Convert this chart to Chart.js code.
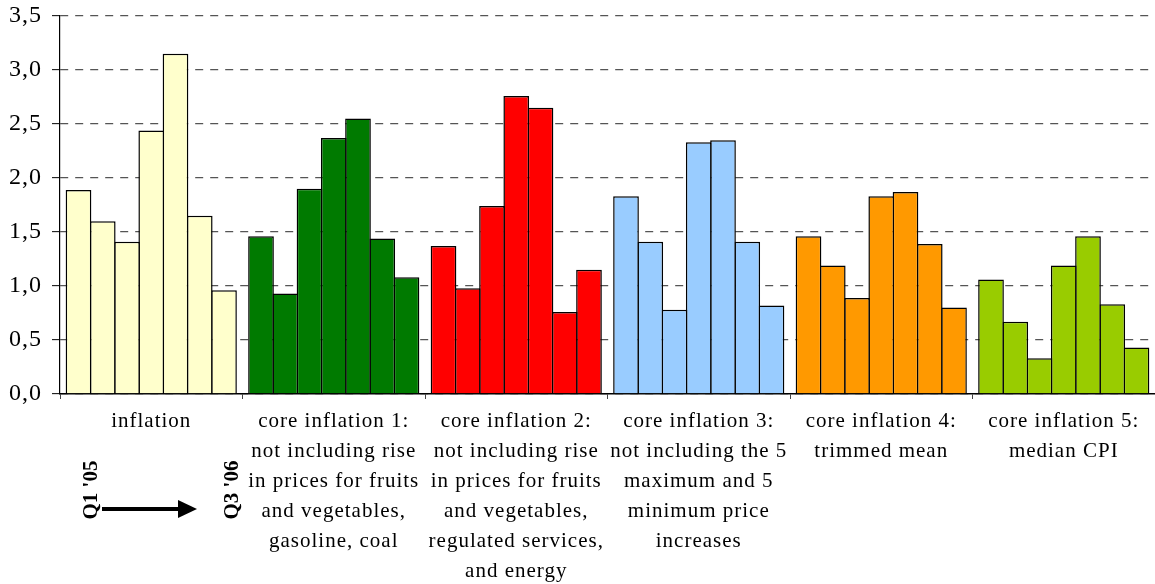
<!DOCTYPE html>
<html>
<head>
<meta charset="utf-8">
<script src="https://cdn.jsdelivr.net/npm/chart.js@4/dist/chart.umd.min.js"></script>
<style>
  html, body { margin: 0; padding: 0; background: #fff; }
  #c { display: block; }
</style>
</head>
<body>
<canvas id="c" width="1155" height="584"></canvas>
<script>
// Inflation measures (categories), each with quarterly values Q1 '05 .. Q3 '06, % q/q
const categories = [
  ['inflation'],
  ['core inflation 1:', 'not including rise', 'in prices for fruits', 'and vegetables,', 'gasoline, coal'],
  ['core inflation 2:', 'not including rise', 'in prices for fruits', 'and vegetables,', 'regulated services,', 'and energy'],
  ['core inflation 3:', 'not including the 5', 'maximum and 5', 'minimum price', 'increases'],
  ['core inflation 4:', 'trimmed mean'],
  ['core inflation 5:', 'median CPI']
];
const quarters = ["Q1 '05", "Q2 '05", "Q3 '05", "Q4 '05", "Q1 '06", "Q2 '06", "Q3 '06"];

const inflation = [1.89, 1.60, 1.41, 2.44, 3.15, 1.65, 0.96];
const core1     = [1.46, 0.93, 1.90, 2.37, 2.55, 1.44, 1.08];
const core2     = [1.37, 0.98, 1.74, 2.76, 2.65, 0.76, 1.15];
const core3     = [1.83, 1.41, 0.78, 2.33, 2.35, 1.41, 0.82];
const core4     = [1.46, 1.19, 0.89, 1.83, 1.87, 1.39, 0.80];
const core5     = [1.06, 0.67, 0.33, 1.19, 1.46, 0.83, 0.43];

const yTicks = [0, 0.5, 1.0, 1.5, 2.0, 2.5, 3.0, 3.5];

const measureColors = ['#FFFFCC', '#007A00', '#FF0000', '#99CCFF', '#FF9900', '#99CC00'];

const series = [inflation, core1, core2, core3, core4, core5];

// One dataset per quarter; bars coloured by measure
const datasets = quarters.map((q, qi) => ({
  label: q,
  data: series.map(s => s[qi]),
  backgroundColor: measureColors,
  borderColor: '#000',
  borderWidth: 1.5,
  borderSkipped: 'start',
  categoryPercentage: 0.93,
  barPercentage: 1.06
}));

// Slightly spaced serif lettering for the axis texts
const letterSpacing = {
  id: 'letterSpacing',
  beforeDraw(chart) { chart.ctx.letterSpacing = '1px'; },
  afterDraw(chart) { chart.ctx.letterSpacing = '0px'; }
};

// Bold period markers with arrow under the first group
const periodArrow = {
  id: 'periodArrow',
  afterDraw(chart) {
    const { ctx, chartArea } = chart;
    const x0 = chartArea.left, y0 = chartArea.bottom;
    ctx.save();
    ctx.letterSpacing = '0px';
    ctx.fillStyle = '#000';
    ctx.strokeStyle = '#000';
    ctx.font = 'bold 21px "Liberation Serif", "Times New Roman", serif';
    ctx.textAlign = 'center';
    ctx.textBaseline = 'middle';
    [[quarters[0], x0 + 32], [quarters[quarters.length - 1], x0 + 173]].forEach(([t, x]) => {
      ctx.save();
      ctx.translate(x, y0 + 96);
      ctx.rotate(-Math.PI / 2);
      ctx.fillText(t, 0, 0);
      ctx.restore();
    });
    ctx.lineWidth = 4;
    ctx.beginPath();
    ctx.moveTo(x0 + 42, y0 + 115);
    ctx.lineTo(x0 + 121, y0 + 115);
    ctx.stroke();
    ctx.beginPath();
    ctx.moveTo(x0 + 118, y0 + 106);
    ctx.lineTo(x0 + 137, y0 + 115);
    ctx.lineTo(x0 + 118, y0 + 124);
    ctx.closePath();
    ctx.fill();
    ctx.restore();
  }
};

new Chart(document.getElementById('c'), {
  type: 'bar',
  data: { labels: categories, datasets },
  options: {
    responsive: false,
    animation: false,
    devicePixelRatio: 1,
    layout: { padding: { top: 0, right: 0, bottom: 0, left: 0 } },
    plugins: {
      legend: { display: false },
      tooltip: { enabled: false }
    },
    scales: {
      x: {
        offset: true,
        afterFit(scale) { scale.height = 190; },
        grid: {
          offset: true,
          drawOnChartArea: false,
          drawTicks: true,
          tickLength: 5,
          color: '#444',
          lineWidth: 1
        },
        border: { display: true, color: '#000', width: 1.5 },
        ticks: {
          autoSkip: false,
          maxRotation: 0,
          minRotation: 0,
          padding: 7,
          color: '#000',
          font: { family: '"Liberation Serif", "Times New Roman", serif', size: 21, lineHeight: 1.43 }
        }
      },
      y: {
        min: 0,
        max: 3.5,
        afterFit(scale) {
          scale.width = 60;
          scale.paddingTop = 16;
          scale.paddingBottom = 0;
        },
        afterBuildTicks(scale) { scale.ticks = yTicks.map(v => ({ value: v })); },
        grid: {
          color: '#555',
          lineWidth: 1.3,
          drawTicks: true,
          tickLength: 8,
          tickColor: '#000',
          tickWidth: 1,
          tickBorderDash: [],
          tickBorderDashOffset: 0
        },
        border: { display: true, color: '#000', width: 1.2, dash: [8, 7] },
        ticks: {
          padding: 10,
          color: '#000',
          font: { family: '"Liberation Serif", "Times New Roman", serif', size: 24, lineHeight: 1 },
          callback: v => Number(v).toFixed(1).replace('.', ',')
        }
      }
    }
  },
  plugins: [letterSpacing, periodArrow]
});
</script>
</body>
</html>
